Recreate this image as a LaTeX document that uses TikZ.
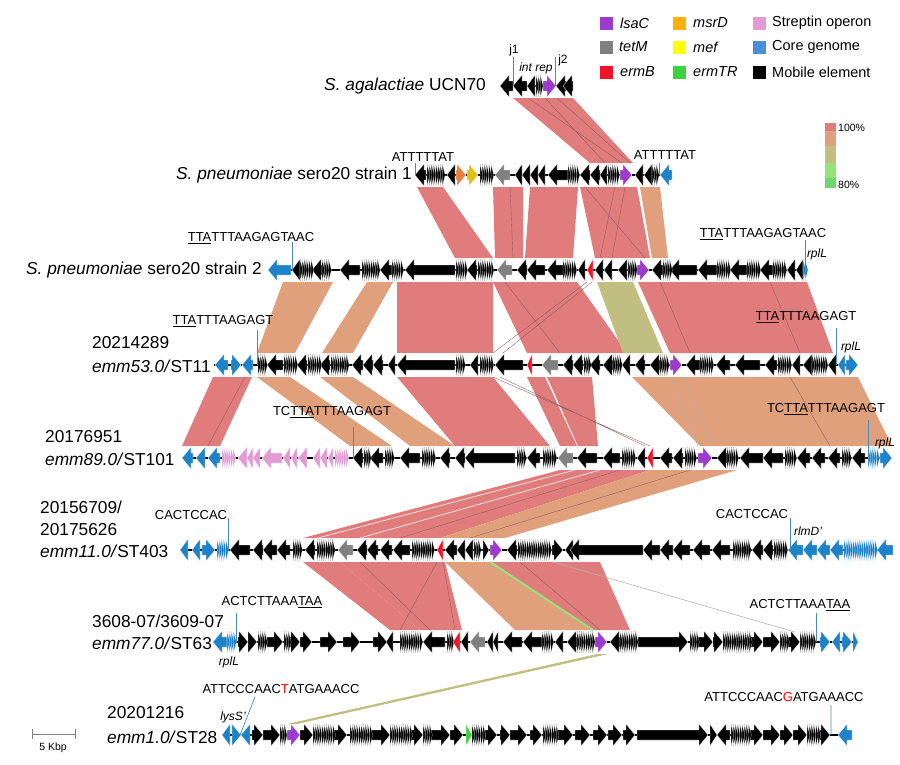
\documentclass[tikz,border=0pt]{standalone}
\usepackage{fontspec}
\setmainfont{Liberation Sans}
\usepackage{tikz}

\definecolor{lsa}{RGB}{155,60,205}
\definecolor{tet}{RGB}{128,128,128}
\definecolor{erm}{RGB}{240,20,40}
\definecolor{msr}{RGB}{255,176,0}
\definecolor{msrtrk}{RGB}{232,128,60}
\definecolor{mefc}{RGB}{255,255,0}
\definecolor{meftrk}{RGB}{225,190,20}
\definecolor{ermtr}{RGB}{60,210,60}
\definecolor{strp}{RGB}{225,155,210}
\definecolor{core}{RGB}{30,130,200}
\definecolor{corekey}{RGB}{74,144,217}
\definecolor{tickc}{RGB}{70,140,190}
\definecolor{idA}{RGB}{224,124,124}
\definecolor{idB}{RGB}{224,160,124}
\definecolor{idC}{RGB}{192,190,128}
\definecolor{idD}{RGB}{150,225,120}
\definecolor{idE}{RGB}{110,215,110}
\definecolor{seamc}{RGB}{140,90,90}

% one gene: [colour]{tail}{tip}
\newcommand{\gn}[3][black]{%
  \pgfmathsetmacro{\gh}{(#3>#2?1:-1)*min(9,abs(#3-#2))}%
  \fill[#1,draw=white,line width=0.25pt] (#2,-5) -- ({#3-\gh},-5) -- ({#3-\gh},-11)
    -- (#3,0) -- ({#3-\gh},11) -- ({#3-\gh},5) -- (#2,5) -- cycle;}
% a run of tiny genes between two x values
\newcommand{\cl}[3][black]{%
  \pgfmathtruncatemacro{\cn}{(#3-#2)/2.2}%
  \foreach \k in {0,...,\cn} {%
    \fill[#1,draw=white,line width=0.15pt] ({#2+\k*2.2},-11) -- ({#2+\k*2.2+2.8},0)
      -- ({#2+\k*2.2},11) -- cycle;}}

\begin{document}
\begin{tikzpicture}[
  x=1pt, y=-1pt,
  bb/.style={line width=1.4pt},
  tk/.style={draw=tickc, line width=0.7pt},
  seam/.style={draw=seamc, line width=0.35pt},
  strain/.style={font=\fontsize{17.3}{19}\selectfont, inner sep=0pt},
  seq/.style={font=\fontsize{13}{15}\selectfont, inner sep=0pt},
  gname/.style={font=\fontsize{12}{14}\selectfont\itshape, inner sep=0pt},
  keytxt/.style={font=\fontsize{14.5}{16}\selectfont, inner sep=0pt, anchor=west},
]
\useasboundingbox (0,0) rectangle (900,764);

% ---------- similarity bands ----------
% row 1 -> row 2
\fill[idA] (513,98) -- (573,98) -- (633,163) -- (590,163) -- cycle;
\draw[seam] (528,98) -- (622,163) (545,98) -- (605,163) (557,98) -- (630,163);
% row 2 -> row 3
\foreach \c/\a/\b/\d/\e in {idA/417/443/455/493, idA/493/523/495/523,
    idA/530/578/525/573, idA/580/637/595/650, idB/640/660/652/668}
  {\fill[\c] (\a,187) -- (\b,187) -- (\e,258) -- (\d,258) -- cycle;}
\draw[seam] (510,187) -- (513,258) (585,187) -- (645,258) (615,187) -- (600,258)
  (625,187) -- (612,258);
% row 3 -> row 4
\foreach \c/\a/\b/\d/\e in {idB/283/333/257/295, idB/367/393/322/353,
    idA/397/493/397/493, idA/493/577/527/627, idC/597/633/623/663,
    idA/638/807/670/833}
  {\fill[\c] (\a,282) -- (\b,282) -- (\e,353) -- (\d,353) -- cycle;}
\draw[seam] (587,282) -- (493,353) (592,282) -- (503,353) (505,282) -- (560,353)
  (770,282) -- (800,353) (660,282) -- (690,353);
% row 4 -> row 5
\foreach \c/\a/\b/\d/\e in {idA/213/252/182/220, idB/257/290/350/392,
    idB/320/353/410/455, idA/397/493/455/550, idA/527/545/560/577,
    idA/547/592/578/598, idB/632/858/700/892}
  {\fill[\c] (\a,377) -- (\b,377) -- (\e,446) -- (\d,446) -- cycle;}
\draw[seam] (245,377) -- (208,446) (493,377) -- (650,446) (500,377) -- (645,446)
  (790,377) -- (830,446);
\draw[draw=gray!60, line width=0.5pt] (670,377) -- (698,446) (682,377) -- (712,446);
% row 5 -> row 6
\foreach \c/\a/\b/\d/\e in {idA/560/650/303/440, idB/650/737/440/505}
  {\fill[\c] (\a,470) -- (\b,470) -- (\e,538) -- (\d,538) -- cycle;}
\draw[draw=white, line width=0.6pt] (575,470) -- (318,538) (600,470) -- (360,538);
\draw[seam] (620,470) -- (400,538) (690,470) -- (470,538);
% row 6 -> row 7
\foreach \c/\a/\b/\d/\e in {idA/303/340/390/420, idA/340/445/420/462,
    idA/492/600/593/630, idB/445/490/515/593}
  {\fill[\c] (\a,562) -- (\b,562) -- (\e,630) -- (\d,630) -- cycle;}
\draw[seam] (437,562) -- (400,630) (443,562) -- (455,630) (360,562) -- (430,630)
  (520,562) -- (600,630);
\draw[idD, line width=2pt] (490,562) -- (593,630);
\draw[draw=gray!60, line width=0.6pt] (553,562) -- (795,632);
% row 7 -> row 8
\fill[idC] (597,654) -- (608,654) -- (297,724) -- (287,724) -- cycle;

% ---------- row 1: S. agalactiae ----------
\begin{scope}[shift={(0,86)}]
  \draw[bb] (500,0) -- (573,0);
  \foreach \t/\p in {513/500,527/513,535/527,566/556,573/563} {\gn{\t}{\p}}
  \cl{536}{541}
  \gn[lsa]{543}{556}
  \draw[tk] (513,-29) -- (513,0) (555,-29) -- (555,0);
  \node[gname, font=\fontsize{12}{14}\selectfont] (j1) at (514,-36) {j1};
  \node[gname, font=\fontsize{12}{14}\selectfont] (j2) at (563,-26) {j2};
  \node[gname] (intrep) at (536,-18) {int rep};
  \node[strain, anchor=east] (r1) at (486,0) {\textit{S. agalactiae} UCN70};
\end{scope}

% ---------- row 2: S. pneumoniae strain 1 ----------
\begin{scope}[shift={(0,175)}]
  \draw[bb] (415,0) -- (672,0);
  \foreach \t/\p in {426/415,455/447,522/515,530/522,538/530,545/538,568/548,
      590/580,600/590,607/600,643/635,652/644} {\gn{\t}{\p}}
  \foreach \a/\b in {427/443,480/492,568/578,608/618,652/658} {\cl{\a}{\b}}
  \gn[msrtrk]{456}{466}
  \gn[meftrk]{467}{478}
  \gn[tet]{510}{495}
  \gn[lsa]{620}{632}
  \gn[core]{672}{660}
  \draw[tk] (415,-12) -- (415,0) (659,-12) -- (659,0);
  \node[strain, anchor=east] (r2) at (412,0) {\textit{S. pneumoniae} sero20 strain 1};
  \node[seq] (s2a) at (423,-18) {ATTTTTAT};
  \node[seq] (s2b) at (665,-20) {ATTTTTAT};
\end{scope}

% ---------- row 3: S. pneumoniae strain 2 ----------
\begin{scope}[shift={(0,270)}]
  \draw[bb] (268,0) -- (806,0);
  \gn[core]{291}{268}
  \foreach \t/\p in {300/292,322/312,360/340,392/380,455/405,477/467,527/517,
      545/527,567/547,585/578,603/595,612/604,627/618,663/652,697/670,717/698,
      747/730,773/760,795/787,803/796} {\gn{\t}{\p}}
  \foreach \a/\b in {300/311,322/330,362/379,392/402,456/466,478/492,563/576,
      628/636,663/670,717/729,747/759,773/786} {\cl{\a}{\b}}
  \gn[tet]{512}{497}
  \gn[erm]{593}{587}
  \gn[lsa]{637}{649}
  \cl[core]{803}{806}
  \draw[tk] (292,-28) -- (292,0) (805,-30) -- (805,5);
  \node[strain, anchor=east] (r3) at (262,0) {\textit{S. pneumoniae} sero20 strain 2};
  \node[seq] (s3a) at (251,-32) {\underline{TTA}TTTAAGAGTAAC};
  \node[seq] (s3b) at (763,-36) {\underline{TTA}TTTAAGAGTAAC};
  \node[gname] (g3) at (817,-16) {rplL};
\end{scope}

% ---------- row 4: 20214289 ----------
\begin{scope}[shift={(0,365)}]
  \draw[bb] (214,0) -- (858,0);
  \gn[core]{228}{215} \gn[core]{231}{241} \gn[core]{253}{242}
  \foreach \t/\p in {283/267,307/297,330/320,363/352,373/363,383/373,395/388,
      455/397,478/470,523/495,573/563,583/573,600/590,613/603,630/622,645/635,
      660/650,700/686,730/716,760/735,777/765,800/792,812/803,836/828} {\gn{\t}{\p}}
  \foreach \a/\b in {258/266,284/296,308/319,331/347,456/463,480/492,584/589,
      613/621,660/668,700/712,778/790,812/826} {\cl{\a}{\b}}
  \gn[erm]{532}{527}
  \gn[tet]{558}{542}
  \gn[lsa]{670}{682}
  \gn[core]{845}{838} \gn[core]{846}{858}
  \draw[tk] (257,-35) -- (257,0) (836,-37) -- (836,0);
  \node[strain, anchor=west] (r4a) at (92,-22) {20214289};
  \node[strain, anchor=west] (r4b) at (92,1) {\textit{emm53.0/}ST11};
  \node[seq] (s4a) at (223,-44) {\underline{TTA}TTTAAGAGT};
  \node[seq] (s4b) at (806,-48) {\underline{TTA}TTTAAGAGT};
  \node[gname] (g4) at (851,-18) {rplL};
\end{scope}

% ---------- row 5: 20176951 ----------
\begin{scope}[shift={(0,458)}]
  \draw[bb] (182,0) -- (890,0);
  \gn[core]{193}{182} \gn[core]{205}{196} \gn[core]{220}{208}
  \foreach \t/\p in {247/238,253/247,260/253,282/262,290/283,297/291,307/298,
      320/313,327/320,333/328} {\gn[strp]{\t}{\p}}
  \cl[strp]{222}{234} \cl[strp]{335}{348}
  \foreach \t/\p in {363/353,383/370,420/400,450/440,465/455,515/465,540/527,
      597/577,620/603,645/637,672/660,683/673,727/717,763/740,783/763,810/797,
      825/812,840/828,865/852} {\gn{\t}{\p}}
  \foreach \a/\b in {364/369,385/392,422/433,517/525,543/555,622/635,685/695,
      727/737,785/795,842/850} {\cl{\a}{\b}}
  \gn[tet]{573}{558}
  \gn[erm]{653}{647}
  \gn[lsa]{698}{712}
  \cl[core]{868}{878}
  \gn[core]{880}{892}
  \draw[tk] (353,-31) -- (353,0) (868,-38) -- (868,0);
  \node[strain, anchor=west] (r5a) at (45,-21) {20176951};
  \node[strain, anchor=west] (r5b) at (45,1) {\textit{emm89.0/}ST101};
  \node[seq] (s5a) at (332,-46) {TC\underline{TTA}TTTAAGAGT};
  \node[seq] (s5b) at (826,-49) {TC\underline{TTA}TTTAAGAGT};
  \node[gname] (g5) at (885,-15) {rplL};
\end{scope}

% ---------- row 6: 20156709/20175626 ----------
\begin{scope}[shift={(0,550)}]
  \draw[bb] (180,0) -- (893,0);
  \gn[core]{188}{180} \gn[core]{200}{192} \gn[core]{202}{215}
  \cl[core]{217}{226}
  \foreach \t/\p in {250/230,263/253,277/263,290/277,315/305,367/357,378/367,
      392/380,410/393,457/445,465/457,473/465,483/489,517/507,552/563,573/565,
      643/570,660/643,673/660,690/673,710/693,730/712,763/752,773/763} {\gn{\t}{\p}}
  \foreach \a/\b in {293/300,317/333,412/433,474/480,518/550,733/750,774/787}
    {\cl{\a}{\b}}
  \gn[tet]{353}{338}
  \gn[erm]{443}{437}
  \gn[lsa]{490}{502}
  \foreach \t/\p in {803/788,817/803,830/817,843/830,893/877} {\gn[core]{\t}{\p}}
  \cl[core]{844}{876}
  \draw[tk] (228,-32) -- (228,0) (790,-32) -- (790,0);
  \node[strain, anchor=west] (r6a) at (40,-43) {20156709/};
  \node[strain, anchor=west] (r6b) at (40,-20) {20175626};
  \node[strain, anchor=west] (r6c) at (40,1) {\textit{emm11.0/}ST403};
  \node[seq] (s6a) at (191,-35) {CACTCCAC};
  \node[seq] (s6b) at (752,-36) {CACTCCAC};
  \node[gname] (g6) at (808,-19) {rlmD'};
\end{scope}

% ---------- row 7: 3608-07/3609-07 ----------
\begin{scope}[shift={(0,642)}]
  \draw[bb] (213,0) -- (858,0);
  \gn[core]{227}{213} \cl[core]{227}{235}
  \foreach \t/\p in {238/248,248/257,267/283,290/300,300/312,320/337,343/360,
      373/387,393/386,445/423,468/461,493/487,498/493,522/503,542/523,563/555,
      577/567,620/610,638/688,697/713,713/723,750/763,763/780,787/800} {\gn{\t}{\p}}
  \foreach \a/\b in {258/266,284/290,400/420,447/453,542/552,577/593,620/636,
      690/697,723/750,780/787,800/815} {\cl{\a}{\b}}
  \gn[erm]{460}{453}
  \gn[tet]{485}{470}
  \gn[lsa]{595}{607}
  \gn[core]{820}{830} \gn[core]{840}{832} \gn[core]{842}{852} \gn[core]{853}{858}
  \draw[tk] (236,-29) -- (236,0) (816,-29) -- (816,0);
  \node[strain, anchor=west] (r7a) at (92,-21) {3608-07/3609-07};
  \node[strain, anchor=west] (r7b) at (92,1) {\textit{emm77.0/}ST63};
  \node[seq] (s7a) at (272,-40) {ACTCTTAAA\underline{TAA}};
  \node[seq] (s7b) at (800,-37) {ACTCTTAAA\underline{TAA}};
  \node[gname] (g7) at (229,20) {rplL};
\end{scope}

% ---------- row 8: 20201216 ----------
\begin{scope}[shift={(0,735)}]
  \draw[bb] (222,0) -- (852,0);
  \gn[core]{230}{222} \gn[core]{232}{241} \gn[core]{250}{241}
  \foreach \t/\p in {252/263,263/280,300/313,333/347,370/390,410/423,430/450,
      450/463,485/497,500/510,510/527,530/542,557/573,575/590,593/607,608/622,
      623/635,637/708,710/717,730/717,750/763,763/780,780/793,793/807,820/830}
    {\gn{\t}{\p}}
  \foreach \a/\b in {280/286,313/333,350/370,390/410,423/430,472/483,543/557,
      731/750,807/820} {\cl{\a}{\b}}
  \gn[lsa]{287}{300}
  \gn[ermtr]{466}{472}
  \gn[core]{852}{838}
  \draw[tk] (255,-38) -- (240,0) (831,-30) -- (831,0);
  \node[strain, anchor=west] (r8a) at (107,-22) {20201216};
  \node[strain, anchor=west] (r8b) at (107,2) {\textit{emm1.0/}ST28};
  \node[seq] (s8a) at (281,-46) {ATTCCCAAC\textcolor{red}{T}ATGAAACC};
  \node[seq] (s8b) at (784,-38) {ATTCCCAAC\textcolor{red}{G}ATGAAACC};
  \node[gname] (g8) at (233,-18) {lysS'};
\end{scope}

% ---------- scale bar ----------
\draw[gray, line width=0.8pt] (32,734) -- (75,734) (32,729) -- (32,739) (75,729) -- (75,739);
\node[font=\fontsize{10.5}{12}\selectfont] (kbp) at (53,748) {5 Kbp};

% ---------- identity key ----------
\foreach \c/\a/\b in {idA/123/131,idB/131/146,idC/146/163,idD/163/178,idE/178/188}
  {\fill[\c] (825,\a) rectangle (836,\b);}
\node[font=\fontsize{10.5}{12}\selectfont, anchor=west, inner sep=0pt] (k100) at (838,128) {100\%};
\node[font=\fontsize{10.5}{12}\selectfont, anchor=west, inner sep=0pt] (k80) at (838,185) {80\%};

% ---------- legend ----------
\foreach \c/\x/\y in {lsa/600/23,tet/600/47,erm/600/72,msr/673/23,mefc/673/47,
    ermtr/673/72,strp/753/23,corekey/753/47,black/753/72}
  {\fill[\c] (\x,\y-6.5) rectangle (\x+13,\y+6.5);}
\node[keytxt] (kl1) at (620,23) {\itshape lsaC};
\node[keytxt] (kl2) at (619,47) {\itshape tetM};
\node[keytxt] (kl3) at (620,72) {\itshape ermB};
\node[keytxt] (kl4) at (693,23) {\itshape msrD};
\node[keytxt] (kl5) at (693,47) {\itshape mef};
\node[keytxt] (kl6) at (693,72) {\itshape ermTR};
\node[keytxt] (kl7) at (772,23) {Streptin operon};
\node[keytxt] (kl8) at (772,47) {Core genome};
\node[keytxt] (kl9) at (772,72) {Mobile element};
\end{tikzpicture}
\end{document}
